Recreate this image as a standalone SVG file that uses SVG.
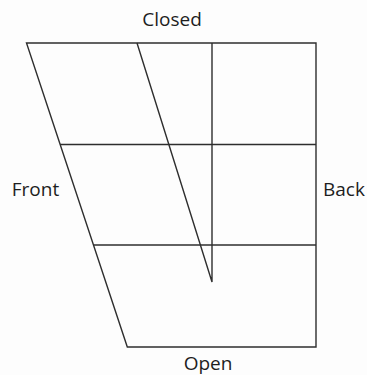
<svg xmlns="http://www.w3.org/2000/svg" width="367" height="375" viewBox="0 0 367 375">
<style>
.ln{fill:none;stroke:#2e2e2e;stroke-width:1.4;stroke-linejoin:miter}
.lb{font-family:"Open Sans","Liberation Sans",sans-serif;font-size:19px;fill:#1e1e1e;text-anchor:middle}
</style>
<rect width="367" height="375" fill="#fdfdfd"/>
<g id="connectors">
<polygon class="ln" points="26.5,43 316,43 316,347 127.3,347"/>
<line class="ln" x1="60" y1="144.5" x2="316" y2="144.5"/>
<line class="ln" x1="93.5" y1="245" x2="316" y2="245"/>
<polyline class="ln" points="137,43 212,282 212,43"/>
</g>
<g id="closed"><text class="lb" x="172" y="25.5">Closed</text></g>
<g id="front"><text class="lb" x="35.5" y="195.5">Front</text></g>
<g id="back"><text class="lb" x="344" y="195.5">Back</text></g>
<g id="open"><text class="lb" x="208" y="369.5">Open</text></g>
</svg>
